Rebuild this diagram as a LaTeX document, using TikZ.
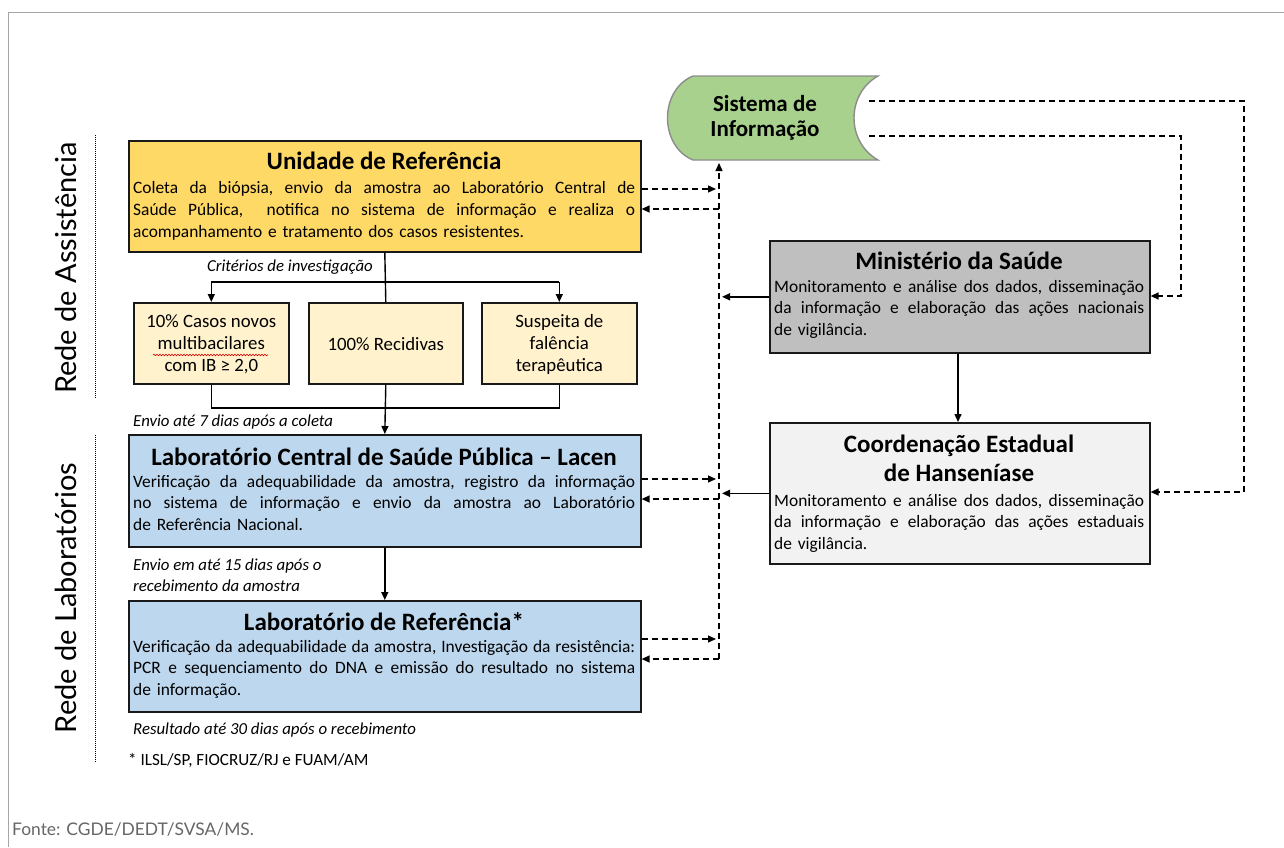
\documentclass[tikz,border=0pt]{standalone}
\usepackage{fontspec}
\setmainfont{Carlito}
\newfontfamily\lato{Lato}
\usetikzlibrary{arrows.meta,decorations.pathmorphing}
\definecolor{uref}{HTML}{FFD966}
\definecolor{crit}{HTML}{FFF2CC}
\definecolor{lab}{HTML}{BDD7EE}
\definecolor{mins}{HTML}{BFBFBF}
\definecolor{coord}{HTML}{F2F2F2}
\definecolor{sisg}{HTML}{A9D18E}
\definecolor{frame}{HTML}{A6A6A6}
\newlength\wa \setlength\wa{502pt}
\newlength\wb \setlength\wb{370pt}
\newcommand{\jl}[2]{\leavevmode\hbox to #1{\frenchspacing\spaceskip=\fontdimen2\font plus 1fil minus 0.4\fontdimen2\font\relax #2}\\}
\tikzset{
  box/.style={draw=black!90, line width=1.6pt, rectangle, inner sep=0pt, anchor=north west},
  ttl/.style={font=\bfseries\fontsize{25}{29}\selectfont, align=center, inner sep=0pt},
  bdy/.style={font=\fontsize{17.4}{21.8}\selectfont, align=left, inner sep=0pt, anchor=base west},
  crt/.style={font=\fontsize{18.8}{22}\selectfont, align=center, inner sep=0pt},
  lbl/.style={font=\itshape\fontsize{16.8}{21}\selectfont, inner sep=0pt, anchor=base west},
  arr/.style={line width=1.4pt, -{Triangle[length=8pt,width=7pt]}},
  ln/.style={line width=1.4pt},
  darr/.style={line width=1.3pt, dash pattern=on 6pt off 4pt, -{Triangle[length=8pt,width=7pt]}},
  rede/.style={font=\lato\fontsize{29}{32}\selectfont, rotate=90, inner sep=0pt},
}
\begin{document}
\begin{tikzpicture}[x=1pt,y=-1pt]
\useasboundingbox (0,0) rectangle (1284,847);
% frame
\draw[frame, line width=1pt] (8,847) -- (8,12) -- (1284,12);

% side labels
\node[rede] (ra) at (66,268) {Rede de Assistência};
\node[rede] (rl) at (66,598) {Rede de Laboratórios};
\coordinate (d1a) at (95,135); \coordinate (d1b) at (95,398);
\coordinate (d2a) at (95,435); \coordinate (d2b) at (95,762);
\draw[line width=1pt, dash pattern=on 1pt off 1pt] (d1a) -- (d1b);
\draw[line width=1pt, dash pattern=on 1pt off 1pt] (d2a) -- (d2b);

% Unidade de Referencia
\node[box, fill=uref, minimum width=512pt, minimum height=111pt] (ur) at (128,140) {};
\node[ttl] (urt) at (384,161) {Unidade de Referência};
\node[bdy, text width=\wa] (urb) at (133,193.5) {\jl{\wa}{Coleta da biópsia, envio da amostra ao Laboratório Central de}\jl{\wa}{Saúde Pública,\ \ notifica no sistema de informação e realiza o}acompanhamento e tratamento dos casos resistentes.};

% criteria
\node[lbl, anchor=base east] (crl) at (373,271) {Critérios de investigação};
\node[box, fill=crit, minimum width=155pt, minimum height=81pt] (c1) at (133,302) {};
\node[box, fill=crit, minimum width=154pt, minimum height=81pt] (c2) at (308,302) {};
\node[box, fill=crit, minimum width=155pt, minimum height=81pt] (c3) at (481,302) {};
\node[crt] (c1t) at ([yshift=-1pt]c1.center) {10\% Casos novos\\multibacilares\\com IB ≥ 2,0};
\node[crt] (c2t) at ([yshift=-1pt]c2.center) {100\% Recidivas};
\node[crt] (c3t) at ([yshift=-1pt]c3.center) {Suspeita de\\falência\\terapêutica};
\coordinate (wv1) at (153,355); \coordinate (wv2) at (268,355);
\draw[red!85!black, line width=0.6pt, decorate, decoration={snake, amplitude=0.8pt, segment length=3pt}] (wv1) -- (wv2);

\coordinate (hl1) at (c1.north |- 0,282);
\coordinate (hl3) at (c3.north |- 0,282);
\draw[ln] (ur.south) -- (c2.north);
\draw[ln] (hl1) -- (hl3);
\draw[arr] (hl1) -- (c1.north);
\draw[arr] (hl3) -- (c3.north);

\coordinate (bl1) at (c1.south |- 0,408);
\coordinate (bl3) at (c3.south |- 0,408);
\draw[ln] (c1.south) -- (bl1) -- (bl3) -- (c3.south);

\node[lbl] (e7) at (133,426) {Envio até 7 dias após a coleta};

% Lacen
\node[box, fill=lab, minimum width=512pt, minimum height=112pt] (lc) at (128,434) {};
\draw[arr] (c2.south) -- (lc.north);
\node[ttl] (lct) at (384,457) {Laboratório Central de Saúde Pública – Lacen};
\node[bdy, text width=\wa] (lcb) at (133,487) {\jl{\wa}{Verificação da adequabilidade da amostra, registro da informação}\jl{\wa}{no sistema de informação e envio da amostra ao Laboratório}de Referência Nacional.};

\node[lbl] (e15a) at (133,570) {Envio em até 15 dias após o};
\node[lbl] (e15b) at (133,591) {recebimento da amostra};

% Lab Referencia
\node[box, fill=lab, minimum width=512pt, minimum height=111pt] (lr) at (128,600) {};
\draw[arr] (lc.south) -- (lr.north);
\node[ttl] (lrt) at (384,622) {Laboratório de Referência*};
\node[bdy, text width=\wa] (lrb) at (133,652) {\jl{\wa}{Verificação da adequabilidade da amostra, Investigação da resistência:}\jl{\wa}{PCR e sequenciamento do DNA e emissão do resultado no sistema}de informação.};

\node[lbl] (r30) at (133,734) {Resultado até 30 dias após o recebimento};
\node[font=\fontsize{17.1}{19}\selectfont, inner sep=0pt, anchor=base west] (fn) at (128,765) {* ILSL/SP, FIOCRUZ/RJ e FUAM/AM};
\node[font=\lato\fontsize{17.4}{19}\selectfont, text=black!60, inner sep=0pt, anchor=base west] (src) at (12,835) {Fonte: CGDE/DEDT/SVSA/MS.};

% Sistema de Informacao
\filldraw[fill=sisg, draw=black!45, line width=1.4pt] (693,76) -- (878,76) .. controls (846,94) and (846,142) .. (878,160) -- (693,160) .. controls (659,146) and (659,90) .. (693,76) -- cycle;
\node[font=\bfseries\fontsize{23}{25.5}\selectfont, align=center, inner sep=0pt] (sis) at (765,118) {Sistema de\\Informação};
\coordinate (sisb) at (719,163);
\coordinate (sisr1) at (869,101);
\coordinate (sisr2) at (869,136);

% Ministerio
\node[box, fill=mins, minimum width=380pt, minimum height=112pt] (ms) at (769,240) {};
\node[ttl] (mst) at (959,261) {Ministério da Saúde};
\node[bdy, text width=\wb] (msb) at (774,292) {\jl{\wb}{Monitoramento e análise dos dados, disseminação}\jl{\wb}{da informação e elaboração das ações nacionais}de vigilância.};

% Coordenacao
\node[box, fill=coord, minimum width=380pt, minimum height=141pt] (ce) at (769,422) {};
\node[ttl] (cet) at (959,458.5) {Coordenação Estadual\\de Hanseníase};
\node[bdy, text width=\wb] (ceb) at (774,506) {\jl{\wb}{Monitoramento e análise dos dados, disseminação}\jl{\wb}{da informação e elaboração das ações estaduais}de vigilância.};

\draw[arr] (ms.south -| 958,0) -- (ce.north -| 958,0);

% bus line
\coordinate (busb) at (719,659);
\draw[darr] (busb) -- (sisb);
\coordinate (bw1) at (722,0);
\draw[arr] (ms.west) -- (ms.west -| bw1);
\draw[arr] (ce.west) -- (ce.west -| bw1);

\coordinate (ba) at (716,0);
\draw[darr] (ur.east |- 0,189) -- (ba |- 0,189);
\draw[darr] (719,209) -- (ur.east |- 0,209);
\draw[darr] (lc.east |- 0,479) -- (ba |- 0,479);
\draw[darr] (719,499) -- (lc.east |- 0,499);
\draw[darr] (lr.east |- 0,639) -- (ba |- 0,639);
\draw[darr] (busb) -- (lr.east |- busb);

% right dashed loops
\coordinate (o1) at (1244,101);
\coordinate (o2) at (1244,492);
\draw[darr] (sisr1) -- (o1) -- (o2) -- (ce.east |- o2);
\coordinate (i1) at (1181,136);
\coordinate (i2) at (1181,296);
\draw[darr] (sisr2) -- (i1) -- (i2) -- (ms.east |- i2);
\end{tikzpicture}
\end{document}
